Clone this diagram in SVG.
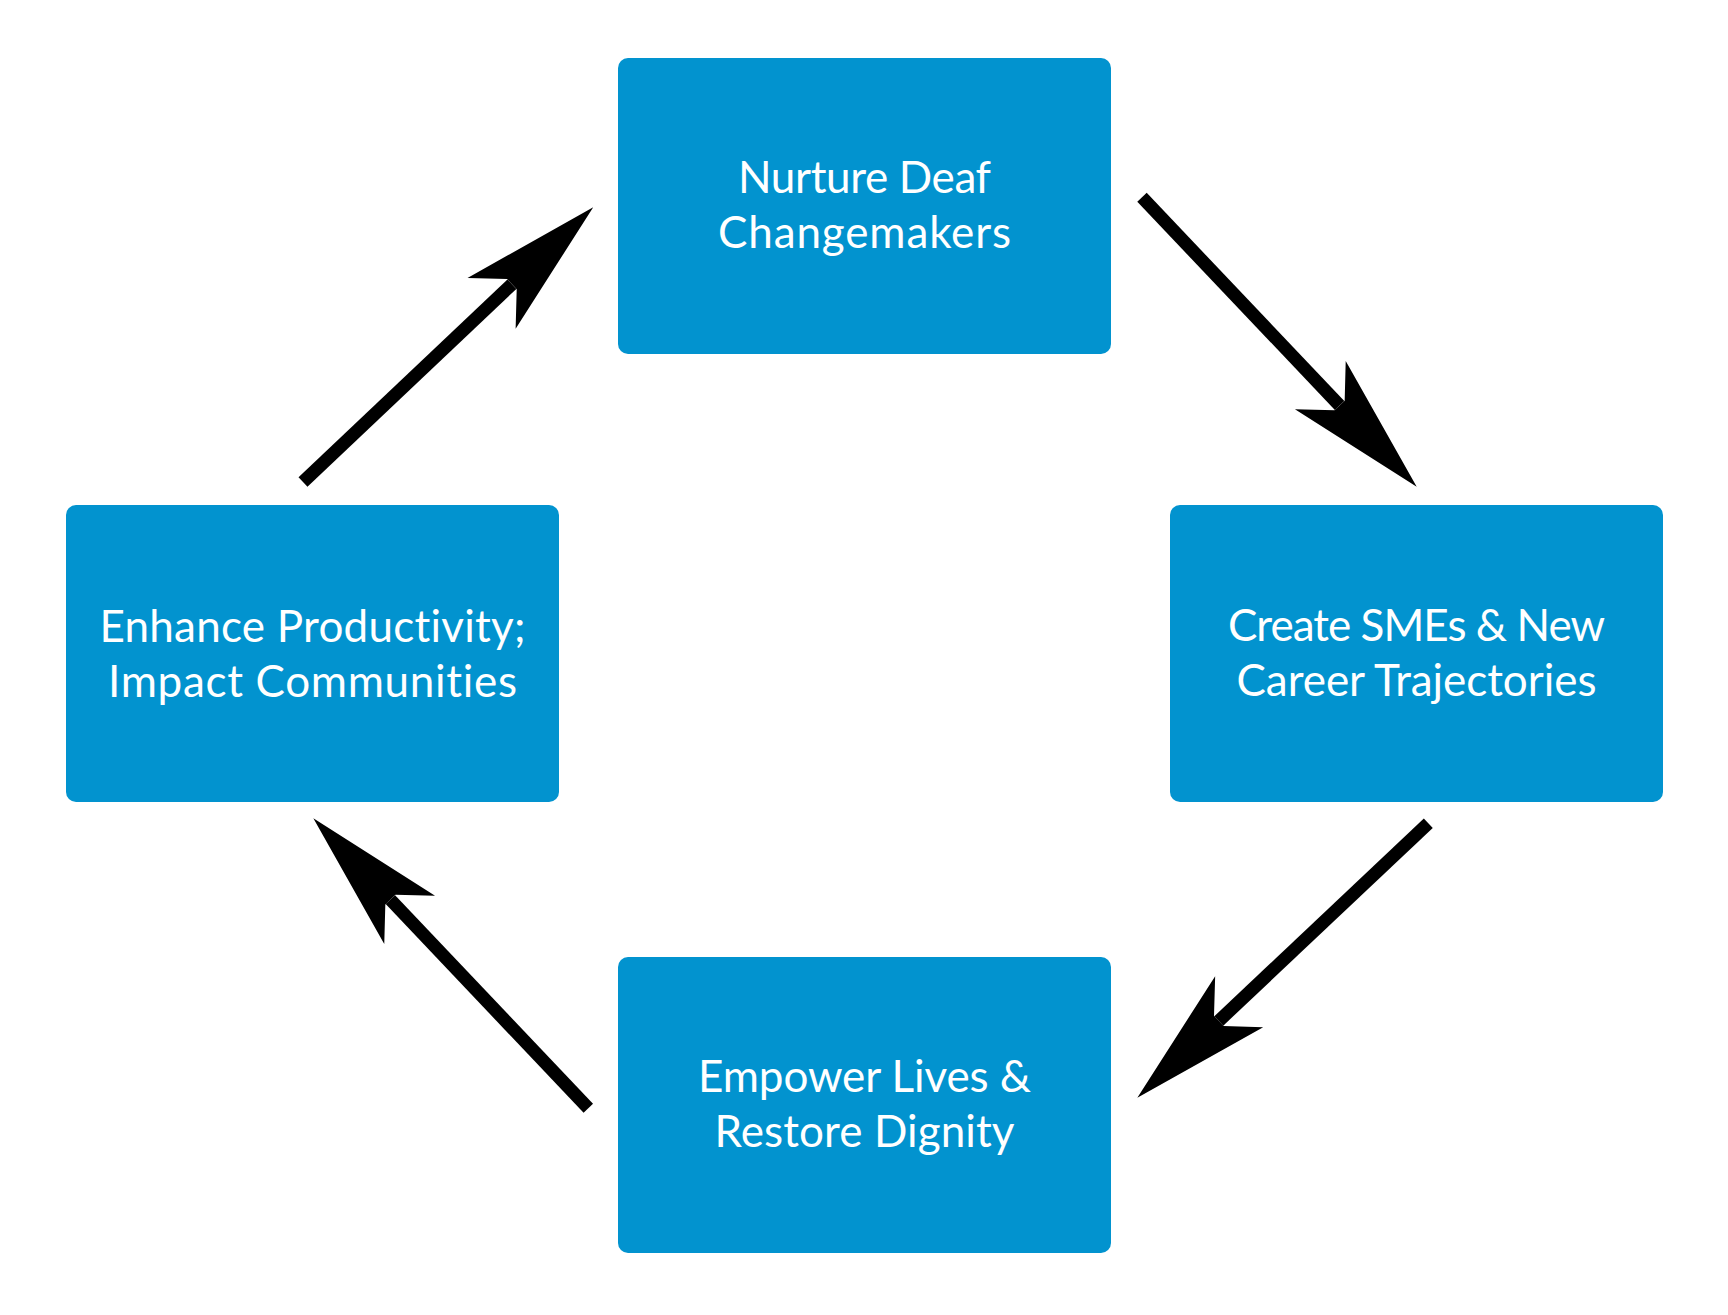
<svg xmlns="http://www.w3.org/2000/svg" width="1728" height="1315" viewBox="0 0 1728 1315">
<style>
.box{fill:#0293cf}
.lbl{fill:#ffffff;font-family:Lato,"Open Sans","Liberation Sans",sans-serif;font-size:44px;text-anchor:middle;font-variant-ligatures:none}
.arr{stroke:#000;stroke-width:13;fill:none;stroke-linecap:butt}
</style>
<defs>
<marker id="head" markerUnits="userSpaceOnUse" orient="auto" refX="0" refY="0" markerWidth="300" markerHeight="300" overflow="visible">
<path d="M112,0 L-28,-35 L0,-7 L0,7 L-28,35 Z" fill="#000"/>
</marker>
</defs>
<rect width="1728" height="1315" fill="#fff"/>
<g id="connectors">
<line class="arr" x1="303" y1="482" x2="511.9" y2="284.2" marker-end="url(#head)"/>
<line class="arr" x1="1142" y1="197.3" x2="1339.6" y2="405.5" marker-end="url(#head)"/>
<line class="arr" x1="1428.3" y1="823.3" x2="1218.8" y2="1020.9" marker-end="url(#head)"/>
<line class="arr" x1="588.3" y1="1108.3" x2="390.4" y2="899.6" marker-end="url(#head)"/>
</g>
<g id="node-nurture">
<rect class="box" x="618" y="58" width="493" height="296" rx="10"/>
<text class="lbl" x="864.5" y="193" textLength="253" lengthAdjust="spacing">Nurture Deaf</text>
<text class="lbl" x="864.5" y="248" textLength="293" lengthAdjust="spacing">Changemakers</text>
</g>
<g id="node-create">
<rect class="box" x="1170" y="505" width="493" height="297" rx="10"/>
<text class="lbl" x="1416.5" y="641" textLength="377" lengthAdjust="spacing">Create SMEs &amp; New</text>
<text class="lbl" x="1416.5" y="696" textLength="360" lengthAdjust="spacing">Career Trajectories</text>
</g>
<g id="node-empower">
<rect class="box" x="618" y="957" width="493" height="296" rx="10"/>
<text class="lbl" x="864.5" y="1092" textLength="333" lengthAdjust="spacing">Empower Lives &amp;</text>
<text class="lbl" x="864.5" y="1147" textLength="300" lengthAdjust="spacing">Restore Dignity</text>
</g>
<g id="node-enhance">
<rect class="box" x="66" y="505" width="493" height="297" rx="10"/>
<text class="lbl" x="312.5" y="642" textLength="426" lengthAdjust="spacing">Enhance Productivity;</text>
<text class="lbl" x="312.5" y="697" textLength="409" lengthAdjust="spacing">Impact Communities</text>
</g>
</svg>
